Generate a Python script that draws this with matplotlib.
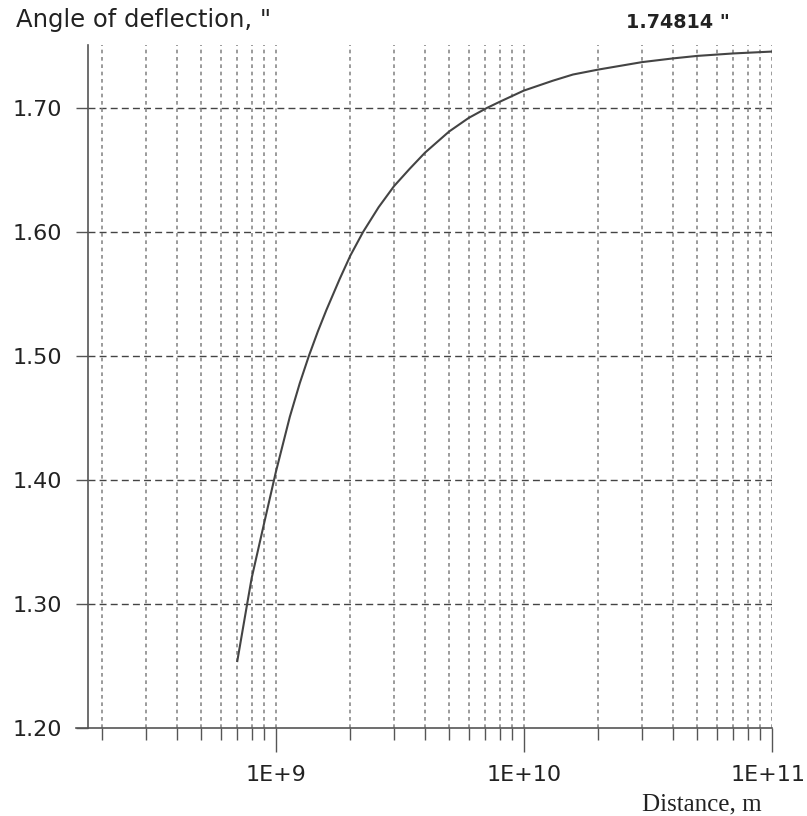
import matplotlib
matplotlib.use("Agg")
import matplotlib.pyplot as plt
import matplotlib.transforms as mtransforms
from matplotlib.ticker import LogLocator, NullFormatter, FixedLocator, FixedFormatter

# Data
distance_m = [7.0e8, 7.7e8, 8.0e8, 9.0e8, 1.0e9, 1.14e9, 1.25e9, 1.36e9, 1.48e9, 1.6e9,
              1.81e9, 2.0e9, 2.25e9, 2.6e9, 3.0e9, 3.47e9, 4.0e9, 5.0e9, 6.0e9, 7.1e9,
              8.0e9, 1.0e10, 1.31e10, 1.58e10, 2.0e10, 3.0e10, 4.0e10, 5.0e10, 7.0e10,
              1.0e11]
angle_arcsec = [1.254, 1.302, 1.321, 1.366, 1.406, 1.451, 1.478, 1.500, 1.520, 1.537,
                1.562, 1.581, 1.600, 1.620, 1.637, 1.651, 1.664, 1.681, 1.692, 1.700,
                1.705, 1.714, 1.722, 1.727, 1.731, 1.737, 1.740, 1.742, 1.744,
                1.7455]
ytick_values = [1.20, 1.30, 1.40, 1.50, 1.60, 1.70]
ytick_labels = ["1.20", "1.30", "1.40", "1.50", "1.60", "1.70"]
xtick_values = [1e9, 1e10, 1e11]
xtick_labels = ["1E+9", "1E+10", "1E+11"]
title_text = 'Angle of deflection, "'
value_text = '1.74814 "'
xlabel_text = "Distance, m"

W, H = 807, 816
fig = plt.figure(figsize=(W / 100, H / 100), dpi=100)
fig.patch.set_facecolor("white")

left_px, right_px, bottom_px, top_px = 88, 771.7, 728, 45
ax = fig.add_axes([left_px / W, 1 - bottom_px / H,
                   (right_px - left_px) / W, (bottom_px - top_px) / H])
ax.set_facecolor("white")
ax.set_xscale("log")
ax.set_xlim(1.75e8, 1e11)
ax.set_ylim(1.20, 1.20 + (bottom_px - top_px) / 1240)

axis_col = "#555555"
for s in ["top", "right"]:
    ax.spines[s].set_visible(False)
for s in ["left", "bottom"]:
    ax.spines[s].set_color(axis_col)
    ax.spines[s].set_linewidth(1.2)

# extend the bottom axis line to the left of the y axis
ax.plot([-12 / (right_px - left_px), 0], [0, 0], transform=ax.transAxes,
        color=axis_col, lw=1.2, clip_on=False)

ax.yaxis.set_major_locator(FixedLocator(ytick_values))
ax.yaxis.set_major_formatter(FixedFormatter(ytick_labels))
ax.xaxis.set_major_locator(FixedLocator(xtick_values))
ax.xaxis.set_major_formatter(FixedFormatter(xtick_labels))
ax.xaxis.set_minor_locator(LogLocator(base=10, subs=range(2, 10), numticks=20))
ax.xaxis.set_minor_formatter(NullFormatter())

# grid
for yv in ytick_values[1:]:
    ax.axhline(yv, color="#444444", lw=1.0, ls=(0, (5, 3)), zorder=1)
xmin, xmax = ax.get_xlim()
for xv in list(ax.xaxis.get_minorticklocs()) + xtick_values:
    if xmin <= xv <= xmax:
        ax.axvline(xv, color="#8a8a8a", lw=1.2, ls=(0, (2.2, 2.2)), zorder=1)

ax.plot(distance_m, angle_arcsec, color="#444444", lw=1.5, zorder=3,
        solid_joinstyle="round")

fontname = "DejaVu Sans"
ax.tick_params(axis="y", which="major", direction="out", length=8.6, width=1,
               color=axis_col, pad=10, labelsize=16)
ax.tick_params(axis="x", which="major", direction="out", length=17.3, width=1,
               color=axis_col, pad=9, labelsize=16)
ax.tick_params(axis="x", which="minor", direction="out", length=8.6, width=1,
               color=axis_col)
for lab in ax.get_xticklabels() + ax.get_yticklabels():
    lab.set_fontfamily(fontname)
    lab.set_color("#222222")

# keep the last x tick label inside the figure
last = ax.get_xticklabels()[-1]
last.set_transform(last.get_transform() +
                   mtransforms.ScaledTranslation(-4 / 100, 0, fig.dpi_scale_trans))

fig.text(16 / W, 1 - 27 / H, title_text, fontsize=17.5, fontfamily=fontname,
         va="baseline", ha="left", color="#222222")
fig.text(626 / W, 1 - 28 / H, value_text, fontsize=13.8, fontfamily=fontname,
         fontweight="bold", va="baseline", ha="left", color="#222222")
fig.text(762 / W, 1 - 810 / H, xlabel_text, fontsize=18,
         fontfamily="Liberation Serif", va="baseline", ha="right", color="#222222")

fig.savefig("out.png", dpi=100, facecolor="white")
